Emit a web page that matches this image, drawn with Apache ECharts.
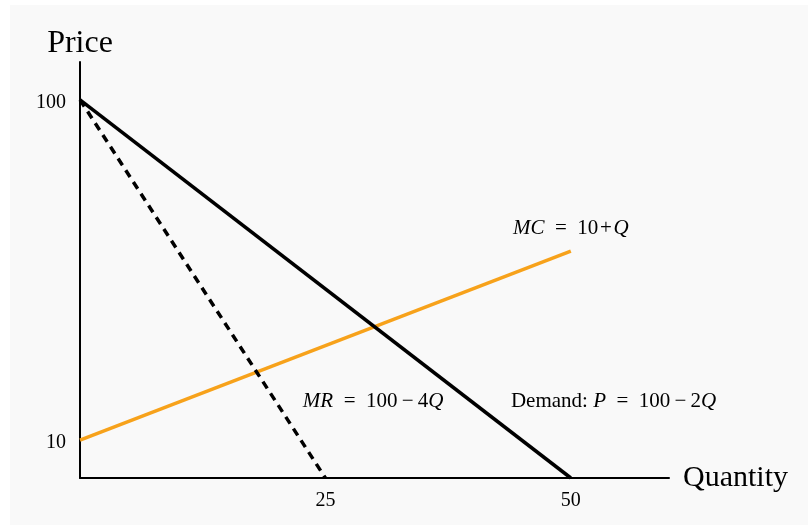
<!DOCTYPE html>
<html>
<head>
<meta charset="utf-8">
<script src="https://cdn.jsdelivr.net/npm/echarts@6/dist/echarts.min.js"></script>
<style>
html,body{margin:0;padding:0;background:#ffffff;}
#bg{position:absolute;left:10px;top:5px;width:798px;height:520px;background:#f9f9f9;}
#c{position:absolute;left:0;top:0;width:808px;height:525px;}
</style>
</head>
<body>
<div id="bg"></div>
<div id="c"></div>
<script>
// Data
const demand = [[0, 100], [50, 0]];          // P = 100 - 2Q
const marginalRevenue = [[0, 100], [25, 0]]; // MR = 100 - 4Q
const marginalCost = [[0, 10], [50, 60]];    // MC = 10 + Q
const xTicks = [25, 50];
const yTicks = [10, 100];
const xName = 'Quantity';
const yName = 'Price';
const annotations = [
  { pos: [22.7, 20.3], text: '{i|MR}\u2002=\u2002100\u2009−\u20094{i|Q}' },
  { pos: [43.9, 20.3], text: 'Demand: {i|P}\u2002=\u2002100\u2009−\u20092{i|Q}' },
  { pos: [44.1, 66.0], text: '{i|MC}\u2002=\u200210\u200a+\u200a{i|Q}' }
];

const serif = '"Liberation Serif", "DejaVu Serif", serif';
const chart = echarts.init(document.getElementById('c'), null, { renderer: 'canvas' });

chart.setOption({
  backgroundColor: 'transparent',
  animation: false,
  grid: { left: 80, right: 139, top: 62, bottom: 47, containLabel: false },
  xAxis: {
    type: 'value', min: 0, max: 60,
    name: xName, nameLocation: 'end', nameGap: 14,
    nameTextStyle: { fontFamily: serif, fontSize: 30, color: '#000', verticalAlign: 'middle' },
    axisLine: { show: true, onZero: false, lineStyle: { color: '#000', width: 2 } },
    axisTick: { show: false },
    splitLine: { show: false },
    axisLabel: { customValues: xTicks, fontFamily: serif, fontSize: 20, color: '#000', margin: 13 }
  },
  yAxis: {
    type: 'value', min: 0, max: 110,
    name: yName, nameLocation: 'end', nameGap: 2,
    nameTextStyle: { fontFamily: serif, fontSize: 32, color: '#000', align: 'center', verticalAlign: 'bottom' },
    axisLine: { show: true, onZero: false, lineStyle: { color: '#000', width: 2 } },
    axisTick: { show: false },
    splitLine: { show: false },
    axisLabel: { customValues: yTicks, fontFamily: serif, fontSize: 20, color: '#000', margin: 14, verticalAlign: 'top', lineHeight: 6 }
  },
  series: [
    {
      type: 'line', name: 'MC', data: marginalCost, symbol: 'none',
      lineStyle: { color: '#f7a21b', width: 3.5 }, z: 3
    },
    {
      type: 'line', name: 'MR', data: marginalRevenue, symbol: 'none',
      lineStyle: { color: '#000', width: 3.5, type: [8, 6] }, z: 4
    },
    {
      type: 'line', name: 'Demand', data: demand, symbol: 'none',
      lineStyle: { color: '#000', width: 3.5 }, z: 5
    },
    {
      type: 'scatter', name: 'labels', symbolSize: 0, silent: true,
      itemStyle: { opacity: 1 },
      data: annotations.map(a => ({ value: a.pos, text: a.text })),
      label: {
        show: true, position: 'right', distance: 0,
        formatter: p => p.data.text,
        fontFamily: serif, fontSize: 21, color: '#000',
        rich: { i: { fontFamily: serif, fontSize: 21, fontStyle: 'italic', color: '#000' } }
      }
    }
  ]
});
</script>
</body>
</html>
